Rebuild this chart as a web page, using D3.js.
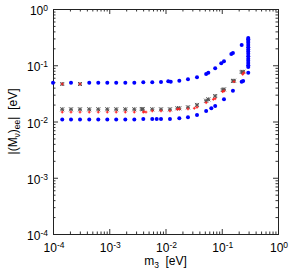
<!DOCTYPE html>
<html>
<head>
<meta charset="utf-8">
<script src="https://cdn.jsdelivr.net/npm/d3@7"></script>
<style>
  body { margin: 0; background: #fff; }
  text { font-family: "Liberation Sans", Arial, sans-serif; fill: #000; }
</style>
</head>
<body>
<svg id="chart"></svg>
<script>
var width = 289;
var height = 275;
var margin = {left: 53, right: 11, top: 9, bottom: 41};

// tick decades for both axes
var xTicks = [1e-4, 1e-3, 1e-2, 1e-1, 1];
var yTicks = [1e-4, 1e-3, 1e-2, 1e-1, 1];

// blue points [m3, |M|ee]
var bluePts = [
  [1.0e-4, 0.049], [2.09e-4, 0.049], [4.41e-4, 0.049], [6.38e-4, 0.049], [9.23e-4, 0.049],
  [1.33e-3, 0.049], [1.93e-3, 0.049], [2.79e-3, 0.049], [4.03e-3, 0.0498], [5.82e-3, 0.0498],
  [8.32e-3, 0.0504], [0.0112, 0.0519], [0.0124, 0.0511], [0.0176, 0.0531], [0.0251, 0.0563],
  [0.0363, 0.0611], [0.0528, 0.0699], [0.0577, 0.0737], [0.0764, 0.0883], [0.098, 0.108],
  [0.1096, 0.1175], [0.148, 0.158], [0.158, 0.165], [0.226, 0.229],
  [0.296, 0.305], [0.296, 0.29], [0.296, 0.27], [0.296, 0.25], [0.296, 0.23], [0.296, 0.21],
  [0.296, 0.19], [0.296, 0.175], [0.296, 0.16], [0.296, 0.145], [0.296, 0.13], [0.296, 0.12],
  [0.296, 0.11], [0.296, 0.1], [0.296, 0.093], [0.296, 0.0737],
  [1.46e-4, 0.0109], [2.09e-4, 0.0109], [3.02e-4, 0.0109], [4.41e-4, 0.0109], [6.38e-4, 0.0109],
  [9.23e-4, 0.0109], [1.33e-3, 0.0109], [1.93e-3, 0.0109], [2.79e-3, 0.0109], [4.03e-3, 0.0111],
  [5.82e-3, 0.0111], [6.98e-3, 0.0111], [8.32e-3, 0.0111], [0.012, 0.0111], [0.0176, 0.0114],
  [0.0251, 0.0119], [0.0363, 0.0131], [0.0528, 0.0154], [0.0652, 0.0172], [0.0764, 0.0189],
  [0.1096, 0.0248], [0.158, 0.0353], [0.226, 0.051], [0.24, 0.0525]
];

// black (star) points
var blackPts = [
  [1.46e-4, 0.0464], [3.02e-4, 0.0464],
  [1.46e-4, 0.0165], [2.09e-4, 0.0165], [3.02e-4, 0.0165], [4.41e-4, 0.0165], [6.38e-4, 0.0165],
  [9.23e-4, 0.0165], [1.33e-3, 0.0165], [1.93e-3, 0.0165], [2.79e-3, 0.0165], [3.78e-3, 0.0167],
  [3.94e-3, 0.0165], [5.82e-3, 0.0165], [8.32e-3, 0.0165], [0.012, 0.0165], [0.0163, 0.0172],
  [0.0176, 0.0172], [0.0251, 0.0179], [0.0363, 0.0197], [0.0528, 0.0234], [0.0577, 0.0248],
  [0.0764, 0.0284], [0.104, 0.0363], [0.1096, 0.0373], [0.158, 0.0525], [0.165, 0.0531],
  [0.226, 0.0759], [0.24, 0.0765]
];

// red points
var redPts = [
  [1.46e-4, 0.0464], [3.02e-4, 0.0464],
  [1.46e-4, 0.0147], [2.09e-4, 0.0147], [3.02e-4, 0.0147], [4.41e-4, 0.0147], [6.38e-4, 0.0147],
  [9.23e-4, 0.0147], [1.33e-3, 0.0147], [1.93e-3, 0.0147], [2.79e-3, 0.0147], [4.03e-3, 0.0147],
  [4.15e-3, 0.0149], [4.5e-3, 0.0147], [5.82e-3, 0.0154], [8.32e-3, 0.0154], [0.012, 0.0154],
  [0.0163, 0.0165], [0.0176, 0.0167], [0.0251, 0.0167], [0.0325, 0.0172], [0.0363, 0.0179],
  [0.0528, 0.0216], [0.0708, 0.0248], [0.0764, 0.0254], [0.104, 0.0339], [0.1096, 0.0349],
  [0.165, 0.051], [0.236, 0.069], [0.248, 0.0737], [0.296, 0.17], [0.296, 0.146]
];

var svg = d3.select('#chart')
  .attr('width', width)
  .attr('height', height);

var x = d3.scaleLog()
  .domain([1e-4, 1])
  .range([margin.left, width - margin.right]);
var y = d3.scaleLog()
  .domain([1e-4, 1])
  .range([height - margin.bottom, margin.top]);

// minor ticks 2..9 in each decade
var minor = [];
for (var e = -4; e < 0; e++) {
  for (var k = 2; k <= 9; k++) minor.push(k * Math.pow(10, e));
}

function drawAxis(axis, tx, ty) {
  svg.append('g')
    .attr('transform', 'translate(' + tx + ',' + ty + ')')
    .call(axis)
    .call(g => g.select('.domain').remove())
    .call(g => g.selectAll('line').attr('stroke', '#333'));
}

var x0 = margin.left, x1 = width - margin.right;
var y0 = height - margin.bottom, y1 = margin.top;

drawAxis(d3.axisBottom(x).tickValues(xTicks).tickSize(-5).tickFormat(''), 0, y0);
drawAxis(d3.axisBottom(x).tickValues(minor).tickSize(-2.5).tickFormat(''), 0, y0);
drawAxis(d3.axisTop(x).tickValues(xTicks).tickSize(-5).tickFormat(''), 0, y1);
drawAxis(d3.axisTop(x).tickValues(minor).tickSize(-2.5).tickFormat(''), 0, y1);
drawAxis(d3.axisLeft(y).tickValues(yTicks).tickSize(-5).tickFormat(''), x0, 0);
drawAxis(d3.axisLeft(y).tickValues(minor).tickSize(-2.5).tickFormat(''), x0, 0);
drawAxis(d3.axisRight(y).tickValues(yTicks).tickSize(-5).tickFormat(''), x1, 0);
drawAxis(d3.axisRight(y).tickValues(minor).tickSize(-2.5).tickFormat(''), x1, 0);

// frame
svg.append('rect')
  .attr('x', x0 + 0.5).attr('y', y1 + 0.5)
  .attr('width', x1 - x0).attr('height', y0 - y1)
  .attr('fill', 'none')
  .attr('stroke', '#222')
  .attr('stroke-width', 1);

function powLabel(sel) {
  sel.text('10')
    .append('tspan')
    .attr('dy', '-0.5em')
    .style('font-size', '8.5px')
    .text(d => Math.round(Math.log10(d)) === 0 ? '0' : '-' + Math.abs(Math.round(Math.log10(d))));
}

svg.selectAll('.xlab')
  .data(xTicks)
  .enter()
  .append('text')
    .attr('x', d => x(d) + 1)
    .attr('y', y0 + 18)
    .style('font-size', '12px')
    .style('text-anchor', 'middle')
    .call(powLabel);

svg.selectAll('.ylab')
  .data(yTicks)
  .enter()
  .append('text')
    .attr('x', x0 - 5)
    .attr('y', d => y(d) + 6)
    .style('font-size', '12px')
    .style('text-anchor', 'end')
    .call(powLabel);

// axis titles
var xt = svg.append('text')
  .attr('x', (x0 + x1) / 2)
  .attr('y', height - 10)
  .style('font-size', '12px')
  .style('text-anchor', 'middle');
xt.append('tspan').text('m');
xt.append('tspan').attr('dy', 3).style('font-size', '8.5px').text('3');
xt.append('tspan').attr('dy', -3).text('\u00a0 [eV]');

var yt = svg.append('text')
  .attr('transform', 'translate(17,' + (y0 + y1) / 2 + ') rotate(-90)')
  .style('font-size', '12px')
  .style('text-anchor', 'middle');
yt.append('tspan').text('|(M');
yt.append('tspan').attr('dy', 3).style('font-size', '8.5px').text('\u03bd');
yt.append('tspan').attr('dy', -3).text(')');
yt.append('tspan').attr('dy', 3).style('font-size', '8.5px').text('ee');
yt.append('tspan').attr('dy', -3).text('|\u00a0 [eV]');

// black star marks
var star = svg.append('g');
star.selectAll('path')
  .data(blackPts)
  .enter()
  .append('path')
    .attr('d', d => {
      var cx = x(d[0]), cy = y(d[1]), s = 2;
      return 'M' + (cx - s) + ',' + (cy - s) + 'L' + (cx + s) + ',' + (cy + s) +
             'M' + (cx - s) + ',' + (cy + s) + 'L' + (cx + s) + ',' + (cy - s) +
             'M' + (cx - s) + ',' + cy + 'L' + (cx + s) + ',' + cy +
             'M' + cx + ',' + (cy - s) + 'L' + cx + ',' + (cy + s);
    })
    .attr('stroke', '#555')
    .attr('stroke-width', 1)
    .attr('fill', 'none');

// red plus marks
svg.append('g').selectAll('path')
  .data(redPts)
  .enter()
  .append('path')
    .attr('d', d => {
      var cx = x(d[0]), cy = y(d[1]), s = 1.4;
      return 'M' + (cx - s) + ',' + cy + 'L' + (cx + s) + ',' + cy +
             'M' + cx + ',' + (cy - s) + 'L' + cx + ',' + (cy + s);
    })
    .attr('stroke', '#ff2020')
    .attr('stroke-width', 1)
    .attr('fill', 'none');

// blue dots
svg.append('g').selectAll('circle')
  .data(bluePts)
  .enter()
  .append('circle')
    .attr('cx', d => x(d[0]))
    .attr('cy', d => y(d[1]))
    .attr('r', 2)
    .attr('fill', '#0000ff');
</script>
</body>
</html>
